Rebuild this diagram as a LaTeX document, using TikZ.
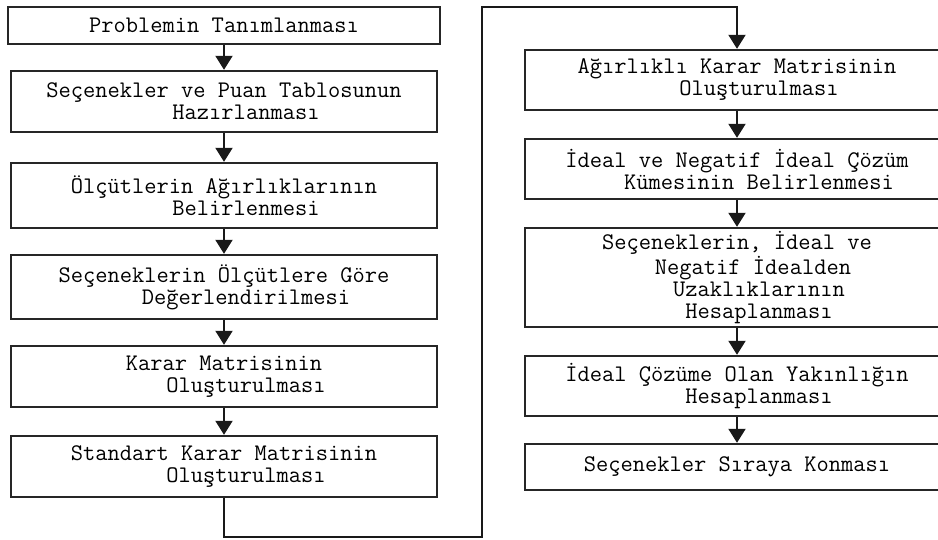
\documentclass[tikz,border=0pt]{standalone}
\usepackage{fontspec}
\usepackage{tikz}
\usetikzlibrary{arrows.meta}
\newcommand{\pad}{\hspace*{22pt}}

\begin{document}
\begin{tikzpicture}[x=0.5pt,y=-0.5pt,
    stepbox/.style={draw=black!85,line width=1.2pt,inner sep=0pt,align=center,
        font=\ttfamily\fontsize{11.9}{11}\selectfont},
    arr/.style={line width=1pt,black!90,-{Triangle[length=7pt,width=8.5pt]}}]
\clip (0,0) rectangle (938,540);
\node[stepbox,minimum width=432*0.5pt,minimum height=37*0.5pt] (L1) at (224,25.5) {Problemin Tanımlanması};
\node[stepbox,minimum width=426*0.5pt,minimum height=61*0.5pt] (L2) at (224,101.5) {Seçenekler ve Puan Tablosunun\\\pad Hazırlanması};
\node[stepbox,minimum width=426*0.5pt,minimum height=65*0.5pt] (L3) at (224,195.5) {Ölçütlerin Ağırlıklarının\\\pad Belirlenmesi};
\node[stepbox,minimum width=426*0.5pt,minimum height=64*0.5pt] (L4) at (224,287) {Seçeneklerin Ölçütlere Göre\\\pad Değerlendirilmesi};
\node[stepbox,minimum width=426*0.5pt,minimum height=61*0.5pt] (L5) at (224,376.5) {Karar Matrisinin\\\pad Oluşturulması};
\node[stepbox,minimum width=426*0.5pt,minimum height=61*0.5pt] (L6) at (224,466.5) {Standart Karar Matrisinin\\\pad Oluşturulması};
\node[stepbox,minimum width=424*0.5pt,minimum height=60*0.5pt] (R1) at (737,80) {Ağırlıklı Karar Matrisinin\\\pad Oluşturulması};
\node[stepbox,minimum width=424*0.5pt,minimum height=60*0.5pt] (R2) at (737,169) {İdeal ve Negatif İdeal Çözüm\\\pad Kümesinin Belirlenmesi};
\node[stepbox,minimum width=424*0.5pt,minimum height=99*0.5pt] (R3) at (737,277.5) {Seçeneklerin, İdeal ve\\\hspace*{16pt}Negatif İdealden\\\pad Uzaklıklarının\\\pad Hesaplanması};
\node[stepbox,minimum width=424*0.5pt,minimum height=60*0.5pt] (R4) at (737,386) {İdeal Çözüme Olan Yakınlığın\\\pad Hesaplanması};
\node[stepbox,minimum width=424*0.5pt,minimum height=46*0.5pt] (R5) at (737,467) {Seçenekler Sıraya Konması};
\coordinate (loopB) at (482,537);
\coordinate (loopT) at (482,7);
\draw[arr] (L1.south) -- (L2.north);
\draw[arr] (L2.south) -- (L3.north);
\draw[arr] (L3.south) -- (L4.north);
\draw[arr] (L4.south) -- (L5.north);
\draw[arr] (L5.south) -- (L6.north);
\draw[arr] (L6.south) |- (loopB) -- (loopT) -| (R1.north);
\draw[arr] (R1.south) -- (R2.north);
\draw[arr] (R2.south) -- (R3.north);
\draw[arr] (R3.south) -- (R4.north);
\draw[arr] (R4.south) -- (R5.north);
\end{tikzpicture}
\end{document}
